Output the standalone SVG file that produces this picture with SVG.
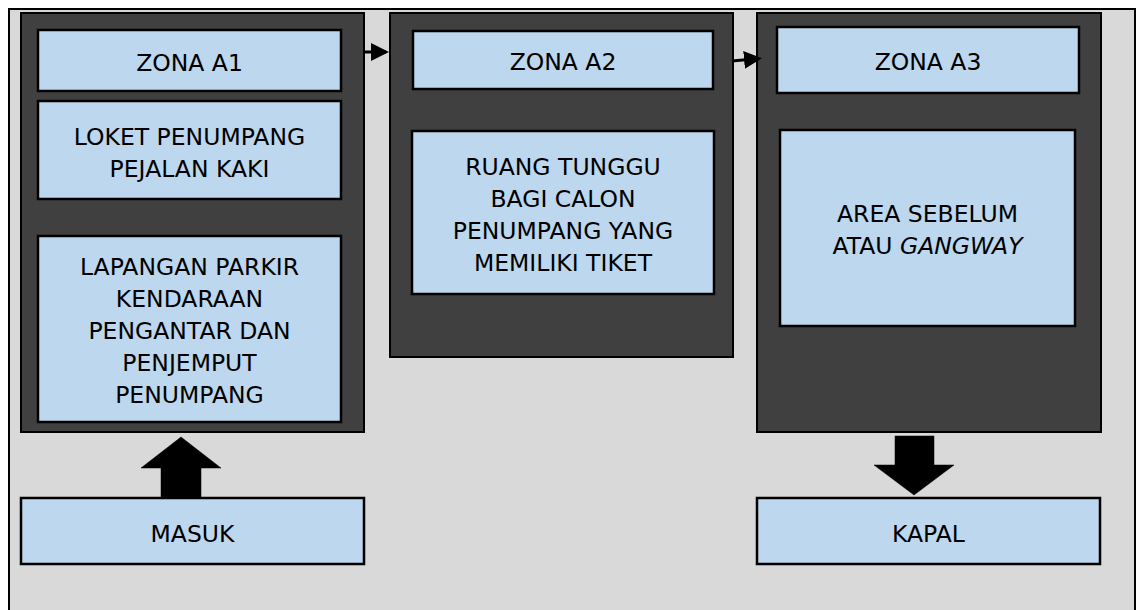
<svg xmlns="http://www.w3.org/2000/svg" width="1138" height="610" viewBox="0 0 1138 610">
<style>
.frame{fill:#d9d9d9;stroke:#000;stroke-width:2}
.zone{fill:#404040;stroke:#000;stroke-width:2}
.box{fill:#bdd7ee;stroke:#000;stroke-width:2.5}
.t{font-family:"DejaVu Sans",Verdana,sans-serif;font-size:23.5px;fill:#000;text-anchor:middle}
.conn{stroke:#000;stroke-width:3;fill:none}
.big{fill:#000;stroke:#000;stroke-width:0.5}
</style>
<defs>
<marker id="ah" markerWidth="6" markerHeight="6" refX="5" refY="3" orient="auto" markerUnits="strokeWidth">
<path d="M0,0 L6,3 L0,6 z" fill="#000"/>
</marker>
</defs>
<rect x="0" y="0" width="1138" height="610" fill="#fff"/>
<rect class="frame" x="9" y="9" width="1126" height="610"/>
<g id="zone1">
<rect class="zone" x="21" y="13" width="343" height="419"/>
</g>
<g id="zone2">
<rect class="zone" x="390" y="13" width="343" height="344"/>
</g>
<g id="zone3">
<rect class="zone" x="757" y="13" width="344" height="419"/>
</g>
<g id="zona-a1">
<rect class="box" x="38" y="30" width="303" height="61"/>
<text class="t" x="189.5" y="71">ZONA A1</text>
</g>
<g id="loket">
<rect class="box" x="38" y="101" width="303" height="98"/>
<text class="t" x="189.5" y="145">LOKET PENUMPANG</text>
<text class="t" x="189.5" y="177">PEJALAN KAKI</text>
</g>
<g id="lapangan">
<rect class="box" x="38" y="236" width="303" height="186"/>
<text class="t" x="189.5" y="275">LAPANGAN PARKIR</text>
<text class="t" x="189.5" y="307">KENDARAAN</text>
<text class="t" x="189.5" y="339">PENGANTAR DAN</text>
<text class="t" x="189.5" y="371">PENJEMPUT</text>
<text class="t" x="189.5" y="403">PENUMPANG</text>
</g>
<g id="zona-a2">
<rect class="box" x="413" y="31" width="300" height="58"/>
<text class="t" x="563" y="70">ZONA A2</text>
</g>
<g id="ruang">
<rect class="box" x="412" y="131" width="302" height="163"/>
<text class="t" x="563" y="175">RUANG TUNGGU</text>
<text class="t" x="563" y="207">BAGI CALON</text>
<text class="t" x="563" y="239">PENUMPANG YANG</text>
<text class="t" x="563" y="271">MEMILIKI TIKET</text>
</g>
<g id="zona-a3">
<rect class="box" x="777" y="27" width="302" height="66"/>
<text class="t" x="928" y="70">ZONA A3</text>
</g>
<g id="area">
<rect class="box" x="780" y="130" width="295" height="196"/>
<text class="t" x="927.5" y="222">AREA SEBELUM</text>
<text class="t" x="927.5" y="254">ATAU <tspan font-style="italic">GANGWAY</tspan></text>
</g>
<g id="masuk">
<rect class="box" x="21" y="498" width="343" height="66"/>
<text class="t" x="192.5" y="542">MASUK</text>
</g>
<g id="kapal">
<rect class="box" x="757" y="498" width="343" height="66"/>
<text class="t" x="928.5" y="542">KAPAL</text>
</g>
<g id="connectors">
<line class="conn" x1="364" y1="52" x2="386" y2="52" marker-end="url(#ah)"/>
<line class="conn" x1="732" y1="61" x2="759" y2="58.5" marker-end="url(#ah)"/>
<path class="big" d="M161,497 L201,497 L201,468 L221,468 L181,437 L141,468 L161,468 Z"/>
<path class="big" d="M895,436 L934,436 L934,465 L954,465 L914,495 L874,465 L895,465 Z"/>
</g>
</svg>
